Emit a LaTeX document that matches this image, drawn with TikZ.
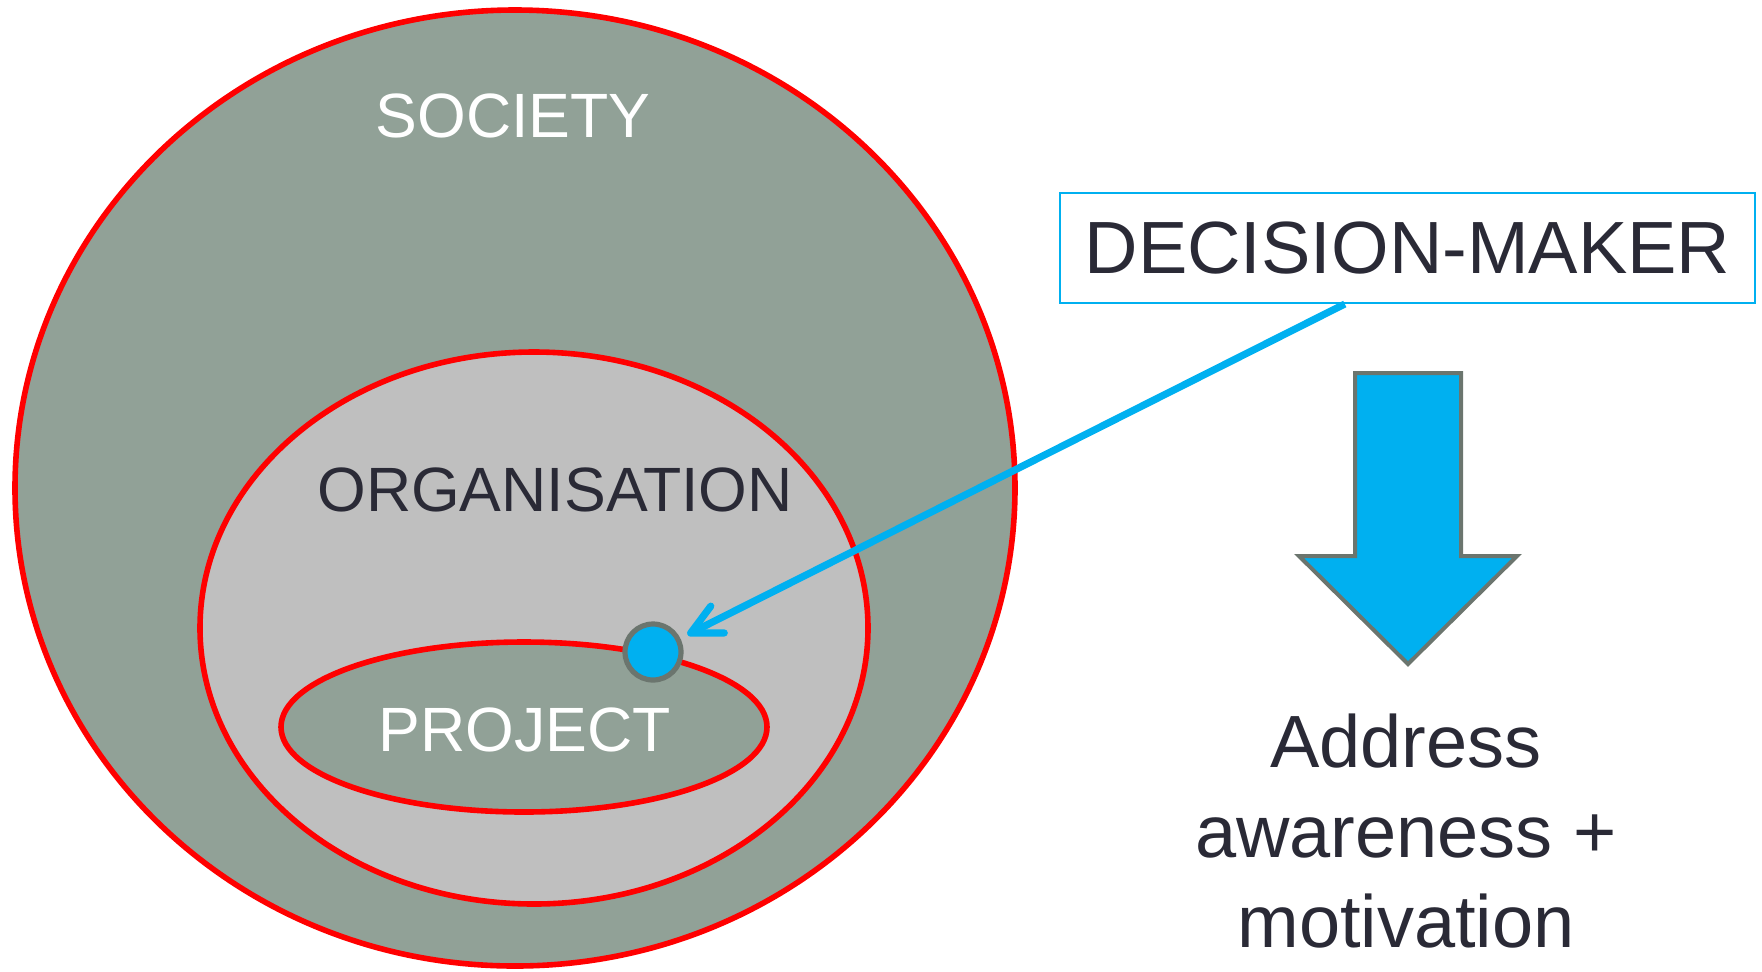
\documentclass[tikz,border=0pt]{standalone}
\usepackage{fontspec}
\setmainfont{Liberation Sans}
\usetikzlibrary{arrows.meta,calc}

\definecolor{societe}{HTML}{91A197}
\definecolor{orga}{HTML}{BFBFBF}
\definecolor{bleu}{HTML}{00B0F0}
\definecolor{contour}{HTML}{6B756E}
\definecolor{texte}{HTML}{2A2A36}

\begin{document}
\begin{tikzpicture}[x=0.5pt,y=-0.5pt,
   cercle/.style={draw=red,line width=2.8pt},
   titre/.style={font=\fontsize{31.3}{37}\selectfont,anchor=base,inner sep=0pt},
   grand/.style={font=\fontsize{37}{45}\selectfont,text=texte,inner sep=0pt}]

   \useasboundingbox (0,0) rectangle (1762,971);

   % Les trois ensembles
   \draw[cercle,fill=societe] (515,488) ellipse [x radius=500,y radius=478];
   \draw[cercle,fill=orga] (534,628) ellipse [x radius=334,y radius=276];
   \draw[cercle,fill=societe] (524,727) ellipse [x radius=243,y radius=85];

   \node[titre,text=white] (society) at (513,137) {SOCIETY};
   \node[titre,text=texte] (organisation) at (555,511) {ORGANISATION};
   \node[titre,text=white] (project) at (525,751) {PROJECT};

   % Le point et le décideur
   \node[circle,fill=bleu,draw=contour,line width=2.6pt,minimum size=28pt,inner sep=0pt] (dot) at (653,652) {};
   \node[grand,draw=bleu,line width=1pt,minimum width=347.5pt,minimum height=55pt] (dm) at (1407.5,248) {DECISION-MAKER};

   % Lien du décideur vers le point
   \draw[bleu,line width=3.6pt,-{Straight Barb[length=15pt,width=15pt,round]},shorten >=4pt]
      ($(dm.south west)!0.41!(dm.south east)$) -- (dot);

   % Grande flèche
   \draw[fill=bleu,draw=contour,line width=2pt,miter limit=4]
      (1355,373) -- (1461,373) -- (1461,556) -- (1517,556) -- (1408,664)
      -- (1299,556) -- (1355,556) -- cycle;

   \node[grand,align=center,anchor=base] (address) at (1406,947) {Address\\awareness +\\motivation};

\end{tikzpicture}
\end{document}
